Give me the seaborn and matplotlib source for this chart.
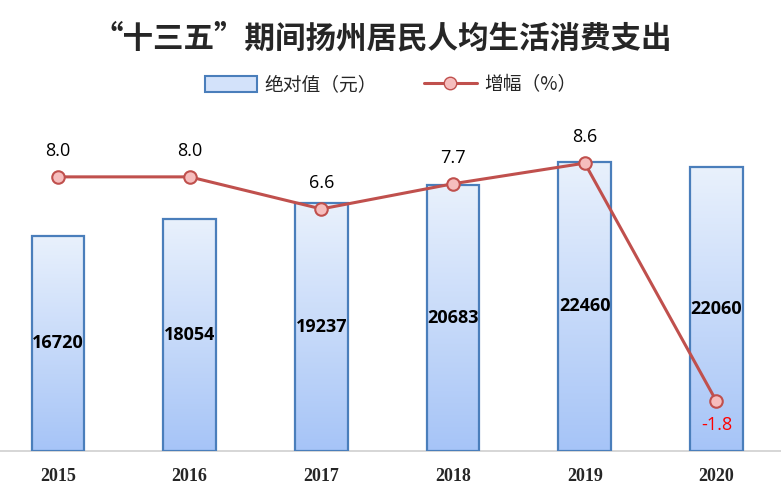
import numpy as np
import pandas as pd
import matplotlib
matplotlib.use("Agg")
import matplotlib.pyplot as plt
import seaborn as sns
from matplotlib.patches import Patch
from matplotlib.lines import Line2D
from matplotlib.colors import LinearSegmentedColormap

years = ["2015", "2016", "2017", "2018", "2019", "2020"]
spending = [16720, 18054, 19237, 20683, 22460, 22060]
growth = [8.0, 8.0, 6.6, 7.7, 8.6, -1.8]
title = "“十三五”期间扬州居民人均生活消费支出"
legend_bar = "绝对值（元）"
legend_line = "增幅（%）"

sns.set_theme(style="white")
plt.rcParams['font.family'] = ['Noto Sans CJK SC', 'DejaVu Sans']

fig = plt.figure(figsize=(7.81, 5.0), dpi=100)
ax = fig.add_axes([0.0, 0.098, 1.0, 0.682])

df = pd.DataFrame({"year": years, "value": spending})
sns.barplot(data=df, x="year", y="value", ax=ax, width=0.40,
            color="#C9DBF8", edgecolor="#4A7EBB", linewidth=1.6, saturation=1)

# gradient fill clipped to each bar
cmap = LinearSegmentedColormap.from_list("g", ["#A6C4F7", "#E9F1FC"])
grad = np.linspace(0, 1, 256).reshape(-1, 1)
for p in ax.patches:
    x0, y0 = p.get_x(), p.get_y()
    w, h = p.get_width(), p.get_height()
    im = ax.imshow(grad, cmap=cmap, aspect="auto", origin="lower",
                   extent=[x0, x0 + w, y0, y0 + h], zorder=p.get_zorder() - 0.1)
    im.set_clip_path(p)
    p.set_facecolor("none")
    p.set_zorder(3)
ax.set_xlim(-0.44, 5.49)
ax.set_ylim(0, 26500)

for i, v in enumerate(spending):
    ax.text(i, v / 2, f"{v}", ha="center", va="center", fontsize=13,
            fontweight="bold", family=["Open Sans", "DejaVu Sans"], color="black", zorder=5)

for s in ["top", "right", "left"]:
    ax.spines[s].set_visible(False)
ax.spines["bottom"].set_color("#D0D0D0")
ax.spines["bottom"].set_linewidth(1.2)
ax.set_yticks([])
ax.set_xlabel("")
ax.set_ylabel("")
ax.tick_params(axis="x", length=0, pad=12)
for lab in ax.get_xticklabels():
    lab.set_fontfamily(["Liberation Serif", "DejaVu Serif"])
    lab.set_fontweight("bold")
    lab.set_fontsize(13)

ax2 = ax.twinx()
sns.lineplot(x=list(range(len(years))), y=growth, ax=ax2, color="#C0504D",
             linewidth=2.2, marker="o", markersize=9, markerfacecolor="#F6BDBD",
             markeredgecolor="#C0504D", markeredgewidth=1.5, zorder=6)
ax2.set_ylim(-3.97, 10.92)
ax2.set_xlim(-0.44, 5.49)
ax2.set_yticks([])
ax2.set_ylabel("")
for s in ["top", "right", "left", "bottom"]:
    ax2.spines[s].set_visible(False)

for i, g in enumerate(growth):
    if g >= 0:
        ax2.text(i, g + 0.75, f"{g:.1f}", ha="center", va="bottom", fontsize=13,
                 family=["Open Sans", "DejaVu Sans"], color="black")
    else:
        ax2.text(i, g - 0.65, f"{g:.1f}", ha="center", va="top", fontsize=13,
                 family=["Open Sans", "DejaVu Sans"], color="#FF0000")

fig.text(0.49, 0.924, title, ha="center", va="center", fontsize=22,
         fontweight="bold", family=["Noto Sans CJK SC", "DejaVu Sans"])

handles = [Patch(facecolor="#D3E2FA", edgecolor="#4A7EBB", linewidth=1.5),
           Line2D([0], [0], color="#C0504D", linewidth=2.2, marker="o", markersize=9,
                  markerfacecolor="#F6BDBD", markeredgecolor="#C0504D")]
fig.legend(handles, [legend_bar, legend_line], loc="center", bbox_to_anchor=(0.5, 0.83),
           ncol=2, frameon=False, fontsize=13.5, handlelength=2.8, handleheight=0.9,
           columnspacing=2.5, handletextpad=0.4)

fig.savefig("out.png", dpi=100)
